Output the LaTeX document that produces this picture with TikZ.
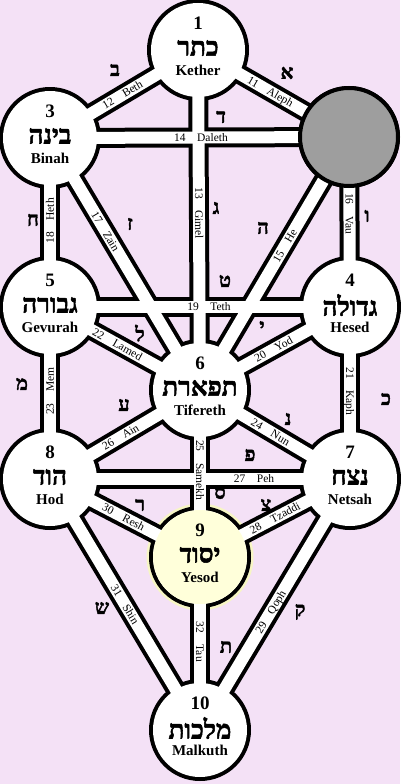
\documentclass[tikz,border=0pt]{standalone}
\usepackage{fontspec}
\setmainfont{Liberation Serif}
\newfontfamily\hebfont[Script=Hebrew, FakeBold=2]{Liberation Serif}
\TeXXeTstate=1
\usepackage{tikz}
\usetikzlibrary{calc}
\definecolor{bgpink}{RGB}{244,225,246}
\definecolor{chokgray}{RGB}{158,158,158}
\definecolor{yesodin}{RGB}{255,255,218}
\definecolor{yesodglow}{RGB}{247,246,196}
\newcommand{\treepaths}{kether/chokmah, kether/binah, kether/tifereth, binah/chokmah,
  chokmah/tifereth, chokmah/hesed, binah/tifereth, binah/gevurah, gevurah/hesed,
  hesed/tifereth, hesed/netsah, gevurah/tifereth, gevurah/hod, tifereth/netsah,
  tifereth/yesod, tifereth/hod, hod/netsah, netsah/yesod, netsah/malkuth,
  hod/yesod, hod/malkuth, yesod/malkuth}

\begin{document}
\begin{tikzpicture}[x=1pt, y=-1pt,
  bandout/.style={line width=20pt, draw=black},
  bandin/.style={line width=12pt, draw=white},
  num/.style={font=\fontsize{19}{19}\selectfont\bfseries, inner sep=0pt},
  heb/.style={font=\fontsize{26}{26}\selectfont\hebfont\bfseries, inner sep=0pt},
  sname/.style={font=\fontsize{15}{15}\selectfont\bfseries, inner sep=0pt,
    text height=10pt, text depth=0pt},
  lbl/.style={font=\fontsize{11.5}{11.5}\selectfont, sloped, inner sep=0pt,
    text height=7.6pt, text depth=0pt},
  letter/.style={font=\fontsize{20}{20}\selectfont\hebfont\bfseries, inner sep=0pt}]
% canvas
\fill[bgpink] (0,0) rectangle (400,784);
\useasboundingbox (0,0) rectangle (400,784);
% sephiroth centres
\coordinate (kether) at (198,50);
\coordinate (binah) at (50,138);
\coordinate (chokmah) at (349,137);
\coordinate (gevurah) at (50,307);
\coordinate (hesed) at (350,307);
\coordinate (tifereth) at (200,390);
\coordinate (hod) at (50,479);
\coordinate (netsah) at (350,479);
\coordinate (yesod) at (200,557);
\coordinate (malkuth) at (200,730);
% glow round yesod
\fill[yesodglow] (yesod) circle[radius=53.5pt];
% black rim of paths and spheres
\foreach \a/\b in \treepaths
  \draw[bandout] (\a) -- (\b);
\foreach \s in {kether,binah,chokmah,gevurah,hesed,tifereth,hod,netsah,yesod,malkuth}
  \fill (\s) circle[radius=51pt];
% white inside
\foreach \a/\b in \treepaths
  \draw[bandin] (\a) -- (\b);
\foreach \s in {kether,binah,gevurah,hesed,tifereth,hod,netsah,yesod,malkuth}
  \fill[white] (\s) circle[radius=47pt];
\fill[yesodin] (yesod) circle[radius=47pt];
\filldraw[fill=chokgray, draw=black, line width=4pt] (chokmah) circle[radius=49pt];
% sephiroth texts
\node[num] (kether-num) at ($(kether)+(0,-27)$) {1};
\node[heb] (kether-heb) at ($(kether)+(0,-2)$) {\beginR כתר\endR};
\node[sname] (kether-name) at ($(kether)+(0,20)$) {Kether};
\node[num] (binah-num) at ($(binah)+(0,-27)$) {3};
\node[heb] (binah-heb) at ($(binah)+(0,-2)$) {\beginR בינה\endR};
\node[sname] (binah-name) at ($(binah)+(0,20)$) {Binah};
\node[num] (gevurah-num) at ($(gevurah)+(0,-27)$) {5};
\node[heb] (gevurah-heb) at ($(gevurah)+(0,-2)$) {\beginR גבורה\endR};
\node[sname] (gevurah-name) at ($(gevurah)+(0,20)$) {Gevurah};
\node[num] (hesed-num) at ($(hesed)+(0,-27)$) {4};
\node[heb] (hesed-heb) at ($(hesed)+(0,-2)$) {\beginR גדולה\endR};
\node[sname] (hesed-name) at ($(hesed)+(0,20)$) {Hesed};
\node[num] (tifereth-num) at ($(tifereth)+(0,-27)$) {6};
\node[heb] (tifereth-heb) at ($(tifereth)+(0,-2)$) {\beginR תפארת\endR};
\node[sname] (tifereth-name) at ($(tifereth)+(0,20)$) {Tifereth};
\node[num] (hod-num) at ($(hod)+(0,-27)$) {8};
\node[heb] (hod-heb) at ($(hod)+(0,-2)$) {\beginR הוד\endR};
\node[sname] (hod-name) at ($(hod)+(0,20)$) {Hod};
\node[num] (netsah-num) at ($(netsah)+(0,-27)$) {7};
\node[heb] (netsah-heb) at ($(netsah)+(0,-2)$) {\beginR נצח\endR};
\node[sname] (netsah-name) at ($(netsah)+(0,20)$) {Netsah};
\node[num] (yesod-num) at ($(yesod)+(0,-27)$) {9};
\node[heb] (yesod-heb) at ($(yesod)+(0,-2)$) {\beginR יסוד\endR};
\node[sname] (yesod-name) at ($(yesod)+(0,20)$) {Yesod};
\node[num] (malkuth-num) at ($(malkuth)+(0,-27)$) {10};
\node[heb] (malkuth-heb) at ($(malkuth)+(0,-2)$) {\beginR מלכות\endR};
\node[sname] (malkuth-name) at ($(malkuth)+(0,20)$) {Malkuth};
% path labels
\path (kether) -- (chokmah) node[lbl, pos=0.48] (p11) {11\quad Aleph};
\path (binah) -- (kether) node[lbl, pos=0.49] (p12) {12\quad Beth};
\path (kether) -- (tifereth) node[lbl, pos=0.48] (p13) {13\quad Gimel};
\path (binah) -- (chokmah) node[lbl, pos=0.505] (p14) {14\quad Daleth};
\path (tifereth) -- (chokmah) node[lbl, pos=0.57] (p15) {15\quad He};
\path (chokmah) -- (hesed) node[lbl, pos=0.45] (p16) {16\quad Vau};
\path (binah) -- (tifereth) node[lbl, pos=0.37] (p17) {17\quad Zain};
\path (gevurah) -- (binah) node[lbl, pos=0.51] (p18) {18\quad Heth};
\path (gevurah) -- (hesed) node[lbl, pos=0.53] (p19) {19\quad Teth};
\path (tifereth) -- (hesed) node[lbl, pos=0.49] (p20) {20\quad Yod};
\path (hesed) -- (netsah) node[lbl, pos=0.49] (p21) {21\quad Kaph};
\path (gevurah) -- (tifereth) node[lbl, pos=0.45] (p22) {22\quad Lamed};
\path (hod) -- (gevurah) node[lbl, pos=0.51] (p23) {23\quad Mem};
\path (tifereth) -- (netsah) node[lbl, pos=0.47] (p24) {24\quad Nun};
\path (tifereth) -- (yesod) node[lbl, pos=0.48] (p25) {25\quad Samekh};
\path (hod) -- (tifereth) node[lbl, pos=0.47] (p26) {26\quad Ain};
\path (hod) -- (netsah) node[lbl, pos=0.68] (p27) {27\quad Peh};
\path (yesod) -- (netsah) node[lbl, pos=0.5] (p28) {28\quad Tzaddi};
\path (malkuth) -- (netsah) node[lbl, pos=0.47] (p29) {29\quad Qoph};
\path (hod) -- (yesod) node[lbl, pos=0.49] (p30) {30\quad Resh};
\path (hod) -- (malkuth) node[lbl, pos=0.5] (p31) {31\quad Shin};
\path (yesod) -- (malkuth) node[lbl, pos=0.49] (p32) {32\quad Tau};
% hebrew letters of the paths
\node[letter] (aleph) at (287,73) {א};
\node[letter] (beth) at (115,70) {ב};
\node[letter] (gimel) at (216,208) {ג};
\node[letter] (daleth) at (221,117) {ד};
\node[letter] (he) at (263,228) {ה};
\node[letter] (vau) at (367,216) {ו};
\node[letter] (zain) at (130,224) {ז};
\node[letter] (heth) at (33,220) {ח};
\node[letter] (teth) at (225,281) {ט};
\node[letter] (yod) at (262,327) {י};
\node[letter] (kaph) at (386,399) {כ};
\node[letter] (lamed) at (140,333) {ל};
\node[letter] (mem) at (22,384) {מ};
\node[letter] (nun) at (288,419) {נ};
\node[letter] (samekh) at (220,493) {ס};
\node[letter] (ain) at (124,405) {ע};
\node[letter] (peh) at (250,455) {פ};
\node[letter] (tzaddi) at (266,505) {צ};
\node[letter] (qoph) at (300,612) {ק};
\node[letter] (resh) at (140,505) {ר};
\node[letter] (shin) at (102,608) {ש};
\node[letter] (tau) at (226,647) {ת};
\end{tikzpicture}
\end{document}
